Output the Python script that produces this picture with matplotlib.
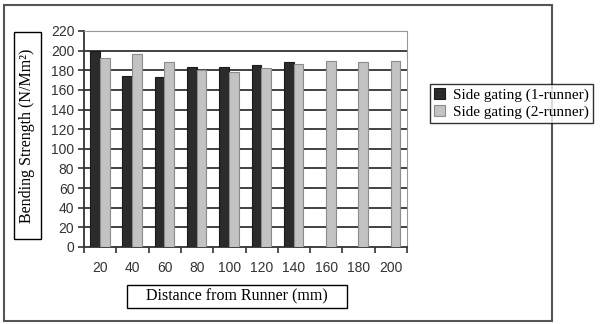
import matplotlib.pyplot as plt
import numpy as np
from matplotlib.patches import Rectangle

# Data
distances = [20, 40, 60, 80, 100, 120, 140, 160, 180, 200]
one_runner = [200, 174, 173, 183, 183, 185, 188, np.nan, np.nan, np.nan]
two_runner = [193, 197, 188, 180, 178, 182, 186, 189, 188, 189]

W, H = 607, 324
fig = plt.figure(figsize=(W / 100, H / 100), dpi=100)

# outer frame of the chart area
fig.patches.append(Rectangle((4 / W, (H - 321) / H), 548 / W, 316 / H,
                             transform=fig.transFigure, fill=False,
                             edgecolor='#555555', lw=1.5))

ax = fig.add_axes([84 / W, (H - 247) / H, 323 / W, 216 / H])
x = np.arange(len(distances))
w = 0.3
ax.bar(x - 0.16, one_runner, w, color='#2b2b2b', edgecolor='#1a1a1a', lw=0.8, zorder=3,
       label='Side gating (1-runner)')
ax.bar(x + 0.14, two_runner, w, color='#c3c3c3', edgecolor='#8c8c8c', lw=0.8, zorder=3,
       label='Side gating (2-runner)')

ax.set_xlim(-0.5, len(distances) - 0.5)
ax.set_ylim(0, 220)
ax.set_yticks(range(0, 221, 20))
for yv in range(20, 201, 20):
    ax.axhline(yv, color='#333333', lw=1.3, zorder=1)

# ticks at group boundaries, labels at centres
ax.set_xticks(np.arange(-0.5, len(distances), 1))
ax.set_xticklabels([])
ax.set_xticks(x, minor=True)
ax.set_xticklabels([str(d) for d in distances], minor=True)
ax.tick_params(axis='x', which='major', direction='out', length=4, width=1.2, color='#333333')
ax.tick_params(axis='x', which='minor', length=0, pad=10)
ax.tick_params(axis='y', direction='out', length=4, width=1.2, color='#333333', pad=3)
for lab in ax.get_xticklabels(minor=True) + ax.get_yticklabels():
    lab.set_family('Liberation Sans')
    lab.set_fontsize(10)
    lab.set_color('#333333')

ax.spines['left'].set_color('#333333')
ax.spines['left'].set_linewidth(1.3)
ax.spines['bottom'].set_color('#333333')
ax.spines['bottom'].set_linewidth(1.3)
ax.spines['top'].set_color('#999999')
ax.spines['right'].set_color('#999999')

# boxed axis titles
fig.patches.append(Rectangle((14 / W, (H - 239) / H), 27 / W, 207 / H,
                             transform=fig.transFigure, fill=False, edgecolor='black', lw=1))
fig.text(27.5 / W, (H - 136) / H, 'Bending Strength (N/Mm²)', rotation=90,
         ha='center', va='center', family='Liberation Serif', fontsize=11.5)

fig.patches.append(Rectangle((127 / W, (H - 308) / H), 220 / W, 23 / H,
                             transform=fig.transFigure, fill=False, edgecolor='black', lw=1))
fig.text(237 / W, (H - 296.5) / H, 'Distance from Runner (mm)',
         ha='center', va='center', family='Liberation Serif', fontsize=11.5)

leg = fig.legend(loc='center', bbox_to_anchor=(511.5 / W, (H - 103.5) / H),
                 prop={'family': 'Liberation Serif', 'size': 11},
                 frameon=True, fancybox=False, edgecolor='black',
                 handlelength=0.7, handleheight=0.7, handletextpad=0.5,
                 labelspacing=0.2, borderpad=0.3, borderaxespad=0)
leg.get_frame().set_linewidth(1)

fig.savefig('out.png', dpi=100)
